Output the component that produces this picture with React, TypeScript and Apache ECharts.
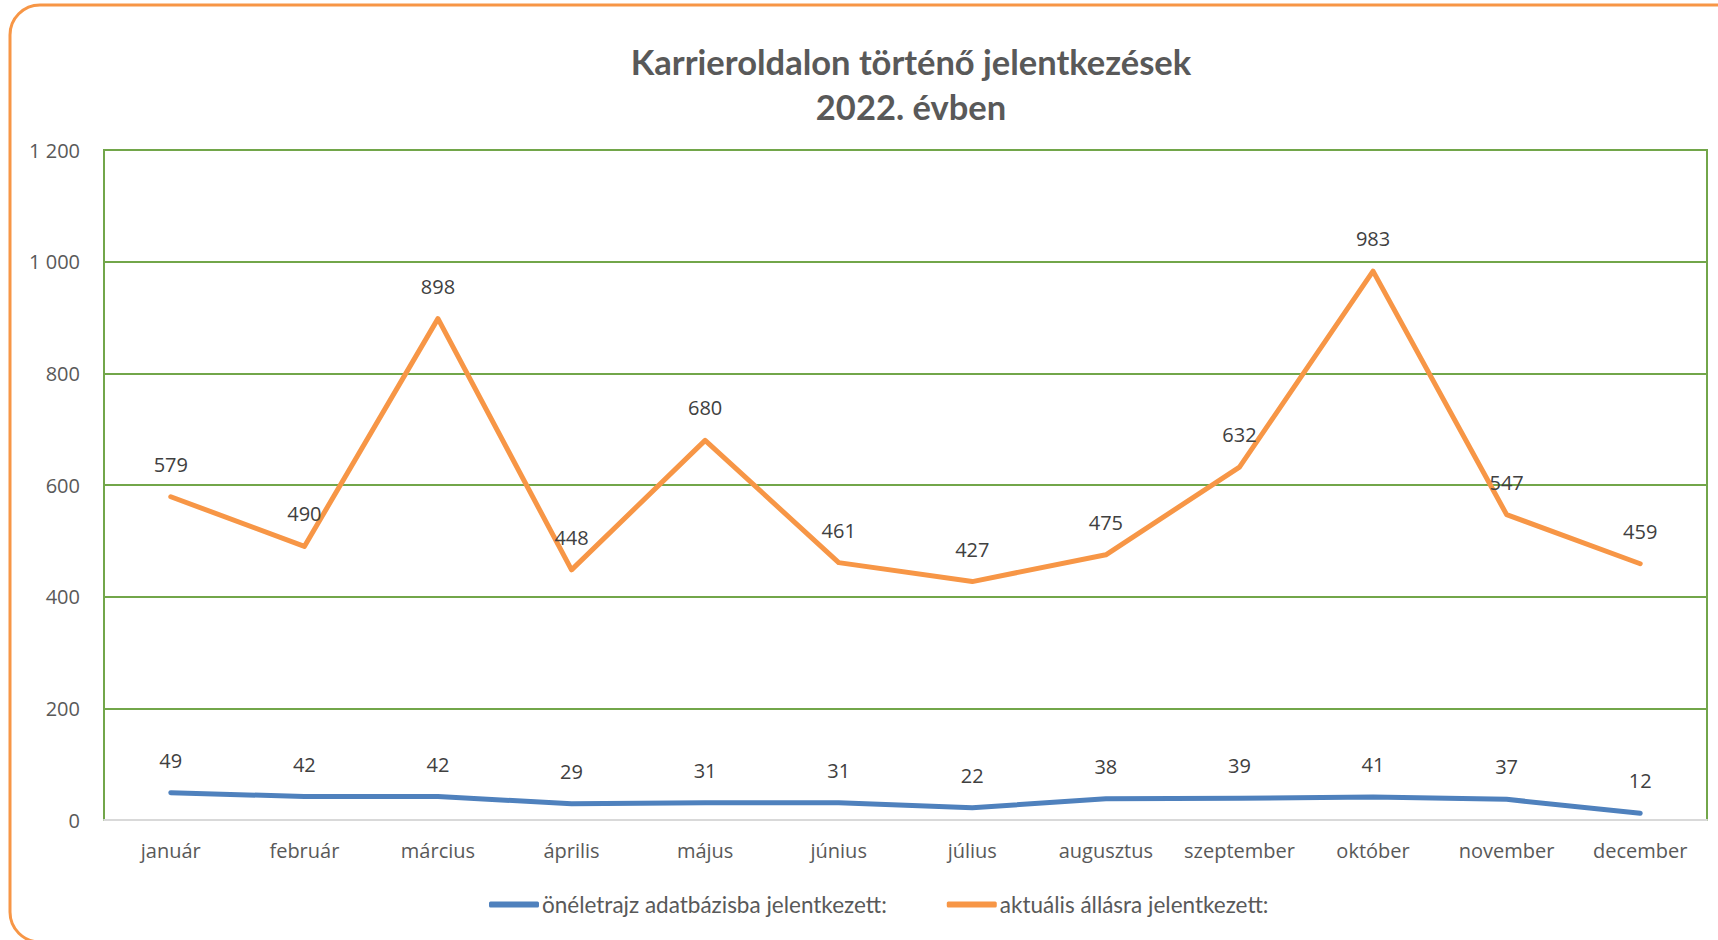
import React, { useEffect, useRef } from "react";
import * as echarts from "echarts";

const months = ["január", "február", "március", "április", "május", "június", "július", "augusztus", "szeptember", "október", "november", "december"];
const cvDatabase = [49, 42, 42, 29, 31, 31, 22, 38, 39, 41, 37, 12];
const currentJobs = [579, 490, 898, 448, 680, 461, 427, 475, 632, 983, 547, 459];
const seriesNames = ["önéletrajz adatbázisba jelentkezett:", "aktuális állásra jelentkezett:"];
const titleText = "Karrieroldalon történő jelentkezések\n2022. évben";

const TEXT = "#595959";
const GREEN = "#72A64A";

export default function App() {
  const ref = useRef<HTMLDivElement>(null);
  useEffect(() => {
    if (!ref.current) return;
    const chart = echarts.init(ref.current, null, { renderer: "svg" });
    const labelCfg = {
      show: true,
      position: "top",
      distance: 22,
      fontFamily: "Open Sans",
      fontSize: 20,
      color: "#404040",
    };
    chart.setOption({
      animation: false,
      backgroundColor: "#ffffff",
      title: {
        text: titleText,
        left: 906,
        textAlign: "center",
        top: 34,
        textStyle: {
          fontFamily: "Lato",
          fontWeight: "bold",
          fontSize: 34.5,
          lineHeight: 45,
          color: TEXT,
        },
      },
      graphic: [
        {
          type: "rect",
          shape: { x: 10, y: 5, width: 1800, height: 937, r: 30 },
          style: { fill: "none", stroke: "#F79646", lineWidth: 3 },
          silent: true,
        },
      ],
      legend: {
        left: 484,
        top: 888,
        icon: "roundRect",
        itemWidth: 50,
        itemHeight: 6,
        itemGap: 60,
        textStyle: { fontFamily: "Lato", fontSize: 22.5, color: TEXT, padding: [0, 0, 0, -2] },
      },
      grid: {
        left: 104,
        right: 11,
        top: 150,
        bottom: 120,
        show: true,
        borderColor: GREEN,
        borderWidth: 2,
      },
      xAxis: {
        type: "category",
        data: months,
        boundaryGap: true,
        axisLine: { lineStyle: { color: "#D9D9D9", width: 2 } },
        axisTick: { show: false },
        axisLabel: { fontFamily: "Open Sans", fontSize: 20, color: TEXT, margin: 20, interval: 0 },
      },
      yAxis: {
        type: "value",
        min: 0,
        max: 1200,
        interval: 200,
        axisLine: { show: true, lineStyle: { color: GREEN, width: 2 } },
        splitLine: { lineStyle: { color: GREEN, width: 2 } },
        axisLabel: {
          fontFamily: "Open Sans",
          fontSize: 20,
          color: TEXT,
          margin: 24,
          formatter: (v: number) => String(v).replace(/\B(?=(\d{3})+(?!\d))/g, " "),
        },
      },
      series: [
        {
          name: seriesNames[0],
          type: "line",
          data: cvDatabase,
          symbol: "circle",
          symbolSize: 1,
          color: "#4F81BD",
          lineStyle: { width: 5, color: "#4F81BD", cap: "round", join: "round" },
          label: labelCfg,
        },
        {
          name: seriesNames[1],
          type: "line",
          data: currentJobs,
          symbol: "circle",
          symbolSize: 1,
          color: "#F79646",
          lineStyle: { width: 5, color: "#F79646", cap: "round", join: "round" },
          label: labelCfg,
        },
      ],
    });
    return () => chart.dispose();
  }, []);
  return (
    <div
      ref={ref}
      style={{ position: "fixed", left: 0, top: 0, width: 1718, height: 940 }}
    />
  );
}
